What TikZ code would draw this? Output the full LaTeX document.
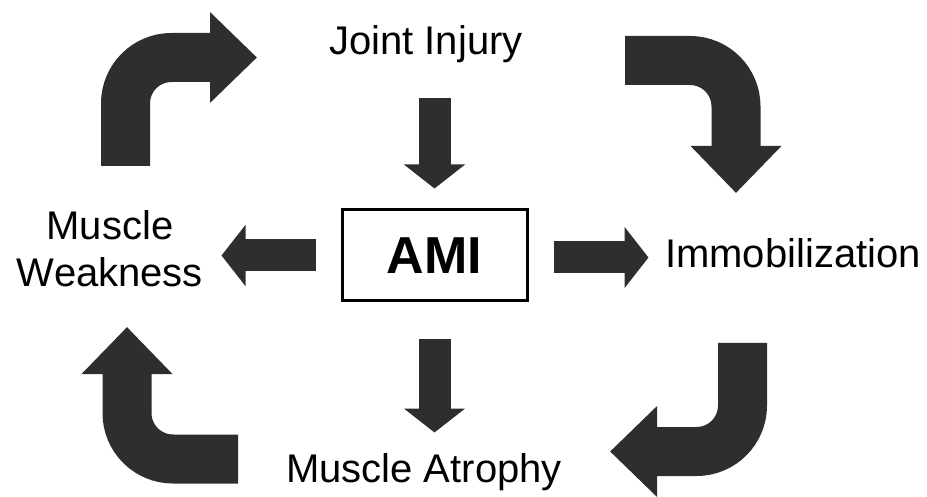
\documentclass[tikz,border=0pt]{standalone}
\usepackage{fontspec}
\setmainfont{Liberation Sans}
\usetikzlibrary{arrows.meta}

\tikzset{
	fat/.style={line width=32pt, draw=black!82, -{Triangle[width=60pt, length=24pt]}},
	bent/.style={line width=49pt, draw=black!82, rounded corners=46pt, -{Triangle[width=88pt, length=47pt]}},
	term/.style={font=\fontsize{40}{47}\selectfont, align=center, inner sep=0pt},
	ambox/.style={draw, line width=3pt, minimum width=185pt, minimum height=91pt, font=\fontsize{52}{60}\selectfont\bfseries},
}

\begin{document}
\begin{tikzpicture}[x=1pt, y=1pt]
	\useasboundingbox (0, 0) rectangle (927, 496);

	% the five stages
	\node [term, anchor=base] (ji) at (426, 441) {Joint Injury};
	\node [term, anchor=base] (mw) at (110, 209) {Muscle\\Weakness};
	\node [term, anchor=base west] (im) at (665, 228) {Immobilization};
	\node [term, anchor=base] (ma) at (424, 14) {Muscle Atrophy};
	\node [ambox] (ami) at (434.5, 240.5) {AMI};

	% straight arrows round the box
	\draw [fat] ([yshift=110pt]ami.north) -- ([yshift=20pt]ami.north);
	\draw [fat] ([yshift=-37pt]ami.south) -- ([yshift=-130pt]ami.south);
	\draw [fat] ([xshift=-25pt]ami.west) -- ([xshift=-119pt]ami.west);
	\draw [fat] ([xshift=25pt, yshift=-2pt]ami.east) -- ([xshift=120pt, yshift=-2pt]ami.east);

	% the cycle
	\coordinate (mw up) at (125.5, 330);
	\coordinate (ji in) at (257, 438.5);
	\coordinate (ji out) at (625, 435.5);
	\coordinate (im in) at (736, 303);
	\coordinate (im out) at (742.5, 153);
	\coordinate (ma in) at (610, 44.5);
	\coordinate (ma out) at (238, 37);
	\coordinate (mw in) at (127, 169);

	\draw [bent] (mw up) |- (ji in);
	\draw [bent] (ji out) -| (im in);
	\draw [bent] (im out) |- (ma in);
	\draw [bent] (ma out) -| (mw in);
\end{tikzpicture}
\end{document}
